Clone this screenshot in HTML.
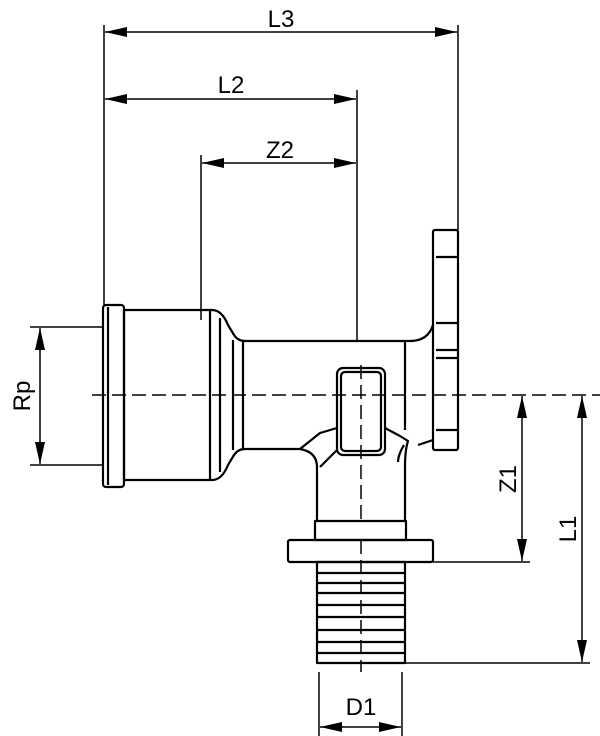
<!DOCTYPE html><html><head><style>body{margin:0;background:#fff}svg{display:block}text{font-family:"Liberation Sans",sans-serif;font-size:24px}</style></head><body>
<svg width="600" height="736" viewBox="0 0 600 736" xmlns="http://www.w3.org/2000/svg">
<g stroke="#000" stroke-width="1.5" fill="none">
<path d="M104,25V305M201,155V320M458,25V230M357,90V340M30,327H103M30,465H103M433,562H530M405,663H590M319,672V736M402,672V736"/>
<path d="M105,32H457M105,99H356M202,163H356M40,328V464M522,396V561M582,396V662M320,727H401"/>
<path d="M92,395H600M361,365V520M361,540V672" stroke-dasharray="14,6"/>
</g>
<g fill="#000">
<path d="M105,32l22,-5v10zM457,32l-22,-5v10z"/>
<path d="M105,99l22,-5v10zM356,99l-22,-5v10z"/>
<path d="M202,163l22,-5v10zM356,163l-22,-5v10z"/>
<path d="M40,328l-5,22h10zM40,464l-5,-22h10z"/>
<path d="M522,396l-5,22h10zM522,561l-5,-22h10z"/>
<path d="M582,396l-5,22h10zM582,662l-5,-22h10z"/>
<path d="M320,727l22,-5v10zM401,727l-22,-5v10z"/>
</g>
<g stroke="#000" stroke-width="2.2" fill="none" stroke-linejoin="round">
<rect x="103" y="305" width="21" height="182" rx="3"/>
<path d="M108,307V485M124,310V480"/>
<path d="M124,310H212Q222,310 228,325L234,335Q238,341 245,341H410Q428,341 433,325"/>
<path d="M124,480H212Q222,480 228,465L234,455Q238,449 245,449H300L320,433L337,428"/>
<path d="M210,310V480M220,318V472M233,340V450M243,341V449M405,341V430"/>
<rect x="433" y="230" width="25" height="220" rx="2"/>
<path d="M436,257H458M436,323H458M436,350H458M436,358H458M436,430H458M433,440L418,445"/>
<rect x="337" y="368" width="48" height="87" rx="6"/>
<rect x="341" y="372" width="40" height="79" rx="4"/>
<path d="M300,449Q317,452 317,467V521M385,428L400,436L408,441Q405,450 405,467V521M320,467L337,450M404,445Q398,455 398,462"/>
<rect x="315" y="521" width="91" height="19"/>
<rect x="288" y="540" width="145" height="22" rx="2"/>
<path d="M317,562H405V663H317Z"/>
<path d="M317,573H405M317,583H405M317,593H405M317,605H405M317,617H405M317,630H405M317,642H405M317,653H405"/>
</g>
<g fill="#000">
<text x="281" y="27" text-anchor="middle">L3</text>
<text x="231" y="93" text-anchor="middle">L2</text>
<text x="280" y="158" text-anchor="middle">Z2</text>
<text x="361" y="715" text-anchor="middle">D1</text>
<text transform="translate(30,396) rotate(-90)" text-anchor="middle">Rp</text>
<text transform="translate(516,479) rotate(-90)" text-anchor="middle">Z1</text>
<text transform="translate(576,529) rotate(-90)" text-anchor="middle">L1</text>
</g>
</svg>
</body></html>
